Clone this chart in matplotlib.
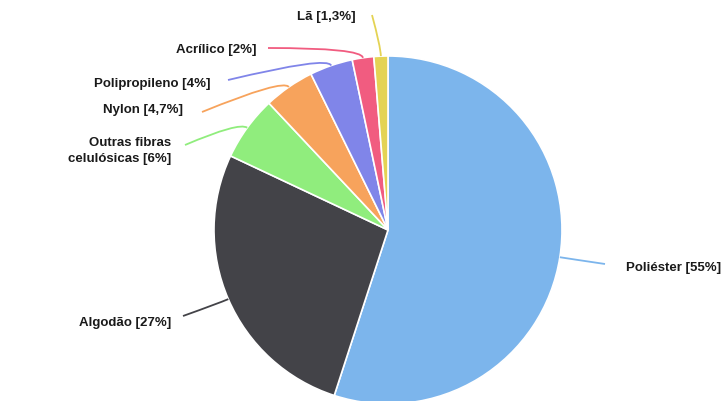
import numpy as np
import matplotlib.pyplot as plt
from matplotlib.path import Path
from matplotlib.patches import PathPatch

labels = ["Poliéster [55%]", "Algodão [27%]", "Outras fibras\ncelulósicas [6%]",
          "Nylon [4,7%]", "Polipropileno [4%]", "Acrílico [2%]", "Lã [1,3%]"]
values = [55, 27, 6, 4.7, 4, 2, 1.3]
colors = ["#7cb5ec", "#434348", "#90ed7d", "#f7a35c", "#8085e9", "#f15c80", "#e4d354"]

# layout in pixel coords (from top-left)
W, H = 721, 401
cx, cy, R = 388, 230, 174
label_xy = [(626, 268), (171, 323), (171, 151), (183, 110), (211, 84), (257, 50), (356, 17)]
conn_end = [(605, 264), (183, 316), (185, 145), (202, 112), (228, 80), (268, 48), (372, 15)]

fig = plt.figure(figsize=(W / 100, H / 100), dpi=100)
ax = fig.add_axes([0, 0, 1, 1])

ax.pie(values, colors=colors, startangle=90, counterclock=False,
       center=(cx, H - cy), radius=R, frame=True,
       wedgeprops=dict(edgecolor='white', linewidth=1.2))
ax.set_xlim(0, W)
ax.set_ylim(0, H)
ax.set_aspect('equal')
ax.axis('off')

total = float(sum(values))
start = 0.0
for lab, v, col, (lx, ly), (ex, ey) in zip(labels, values, colors, label_xy, conn_end):
    mid = np.deg2rad((start + v / 2) / total * 360)
    start += v
    px, py = cx + R * np.sin(mid), H - cy + R * np.cos(mid)
    kx, ky = cx + (R + 10) * np.sin(mid), H - cy + (R + 10) * np.cos(mid)
    path = Path([(px, py), (kx, ky), (ex, H - ey)], [Path.MOVETO, Path.CURVE3, Path.CURVE3])
    ax.add_patch(PathPatch(path, fill=False, edgecolor=col, linewidth=1.3))
    ha = 'left' if lx > cx else 'right'
    ax.text(lx, H - ly, lab, ha=ha, va='center', fontsize=9.5, fontweight='bold',
            family='Liberation Sans', color='#1a1a1a', linespacing=1.35)

fig.savefig('out.png', dpi=100)
